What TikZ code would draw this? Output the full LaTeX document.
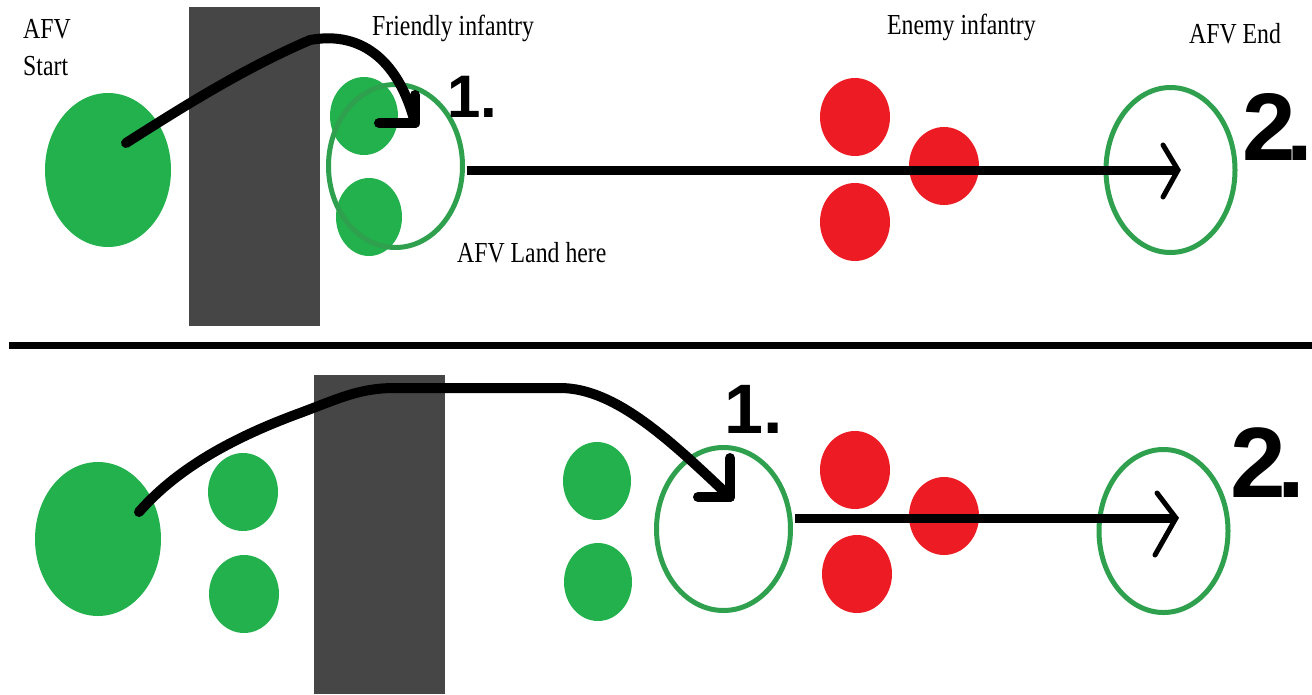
\documentclass[tikz,border=0pt]{standalone}
\usepackage{fontspec}
\setmainfont{Liberation Serif}[FakeStretch=0.82]
\newfontfamily\numfont{Liberation Sans}
\usetikzlibrary{shapes.geometric}
\definecolor{pgreen}{HTML}{22B14C}
\definecolor{ringgreen}{HTML}{2FA04E}
\definecolor{pred}{HTML}{ED1C24}
\definecolor{wallgray}{HTML}{464646}
\begin{document}
\begin{tikzpicture}[x=1pt,y=-1pt,
  infdot/.style={ellipse, inner sep=0pt, outer sep=0pt, draw=none},
  friend/.style={infdot, fill=pgreen, minimum width=68pt, minimum height=78pt},
  bigafv/.style={infdot, fill=pgreen, minimum width=126pt, minimum height=154pt},
  enemy/.style={infdot, fill=pred, minimum width=70pt, minimum height=78pt},
  afvring/.style={ellipse, inner sep=0pt, outer sep=0pt, draw=ringgreen, line width=5pt, minimum width=#1},
  afvring/.default=134pt,
  wall/.style={fill=wallgray, draw=none},
  txt/.style={anchor=base west, inner sep=0pt, font=\fontsize{29}{34}\selectfont},
  stepnum/.style={anchor=base west, inner sep=0pt, font=\numfont\bfseries\fontsize{#1}{#1}\selectfont},
  movepath/.style={line width=10pt, line cap=round, line join=round},
  shotpath/.style={line width=9pt},
  chevron/.style={line width=5pt, line cap=round, line join=miter}
]
\useasboundingbox (0,0) rectangle (1312,694);
\fill[white] (0,0) rectangle (1312,694);

% ---------------- top panel ----------------
\fill[wall] (189,7) rectangle (320,326);
\node[bigafv] (start1) at (108,170) {};
\node[friend] (f1a) at (364,116) {};
\node[friend, minimum width=66pt] (f1b) at (369,217) {};
\node[afvring, minimum height=163pt] (ring1) at (395.5,166) {};
\node[enemy] (e1a) at (855,117) {};
\node[enemy] (e1b) at (944,166) {};
\node[enemy] (e1c) at (855,222) {};
\node[afvring=129pt, minimum height=165pt] (ring1e) at (1170.5,170) {};

\node[txt] (t1) at (23,38) {AFV};
\node[txt] (t2) at (23,75) {Start};
\node[txt] (t3) at (372,35) {Friendly infantry};
\node[txt] (t4) at (887,34) {Enemy infantry};
\node[txt] (t5) at (1189,43) {AFV End};
\node[txt] (t6) at (457,262) {AFV Land here};
\node[stepnum=60] (n1) at (447,117) {1.};
\node[stepnum=96] (n2) at (1242,160) {2\kern-9pt.};

\coordinate (s1) at (126,143);
\coordinate (c1) at (415,123);
\coordinate (c1l) at (379,123);
\coordinate (c1u) at (415,95);
\draw[movepath] (s1) .. controls (175,112) and (240,70) .. (310,40)
  .. controls (365,30) and (400,65) .. (c1);
\draw[movepath] (c1l) -- (c1) -- (c1u);

\coordinate (h1s) at (467,170);
\coordinate (h1e) at (1178,170);
\draw[shotpath] (h1s) -- (h1e);
\draw[chevron] (1163,145) -- (h1e) -- (1163,197);

% ---------------- separator ----------------
\coordinate (sepl) at (9,345);
\coordinate (sepr) at (1312,345);
\draw[line width=7pt] (sepl) -- (sepr);

% ---------------- bottom panel ----------------
\fill[wall] (314,375) rectangle (445,694);
\node[bigafv] (start2) at (98,539) {};
\node[friend, minimum width=70pt] (f2a) at (243,492) {};
\node[friend, minimum width=70pt] (f2b) at (244,594) {};
\node[friend] (f2c) at (597,481) {};
\node[friend] (f2d) at (598,582) {};
\node[afvring, minimum height=163pt] (ring2) at (723.5,529) {};
\node[enemy] (e2a) at (855,470) {};
\node[enemy] (e2b) at (944,516) {};
\node[enemy] (e2c) at (857,574) {};
\node[afvring=129pt, minimum height=163pt] (ring2e) at (1163.5,531) {};

\node[stepnum=70] (n3) at (724,433) {1.};
\node[stepnum=100] (n4) at (1230,497) {2\kern-8pt.};

\coordinate (s2) at (139,512);
\coordinate (c2) at (730,497);
\coordinate (c2l) at (698,497);
\coordinate (c2u) at (730,458);
\draw[movepath] (s2) .. controls (180,465) and (240,435) .. (300,413)
  .. controls (340,398) and (360,388) .. (395,388) -- (560,388)
  .. controls (615,388) and (670,440) .. (c2);
\draw[movepath] (c2l) -- (c2) -- (c2u);

\coordinate (h2s) at (795,518);
\coordinate (h2e) at (1176,518);
\draw[shotpath] (h2s) -- (h2e);
\draw[chevron] (1157,493) -- (h2e) -- (1155,555);
\end{tikzpicture}
\end{document}
